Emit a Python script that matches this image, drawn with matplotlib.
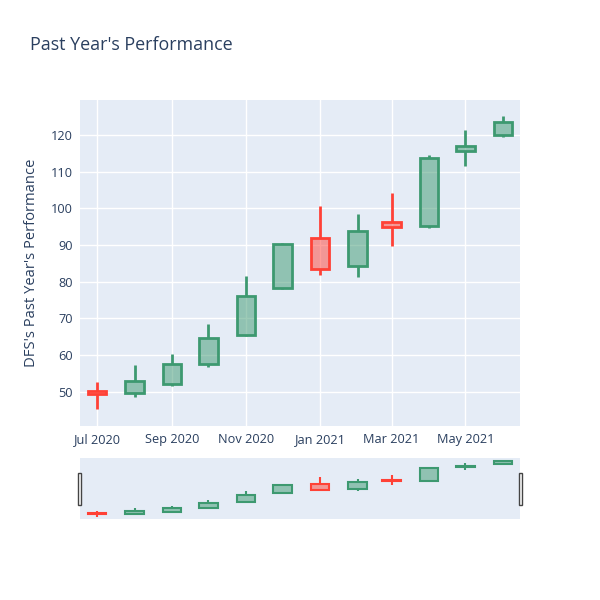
import numpy as np
import pandas as pd
import matplotlib
matplotlib.use("Agg")
import matplotlib.pyplot as plt
import matplotlib.dates as mdates
from matplotlib.patches import Rectangle

plt.rcParams["font.family"] = ["Open Sans", "DejaVu Sans"]

# Monthly OHLC
months = pd.date_range("2020-07-01", "2021-06-01", freq="MS")
opens = [50.3, 49.6, 52.2, 57.5, 65.6, 78.2, 92.0, 84.3, 96.3, 95.3, 115.5, 120.1]
highs = [52.7, 57.4, 60.3, 68.4, 81.6, 90.6, 100.7, 98.5, 104.2, 114.6, 121.2, 125.2]
lows = [45.3, 48.6, 51.7, 56.9, 65.1, 78.0, 81.7, 81.2, 89.6, 94.7, 111.4, 119.3]
closes = [49.5, 53.0, 57.7, 64.8, 76.0, 90.3, 83.5, 93.9, 95.0, 113.8, 117.0, 123.4]

tick_dates = pd.to_datetime(["2020-07-01", "2020-09-01", "2020-11-01",
                             "2021-01-01", "2021-03-01", "2021-05-01"])
y_ticks = np.arange(50, 121, 10)

INC = "#3D9970"
DEC = "#FF4136"
BG = "#E5ECF6"
TXT = "#2a3f5f"


def draw_candles(ax, lw_box=2.0, lw_wick=2.0):
    x = mdates.date2num(months)
    for xi, o, h, l, c in zip(x, opens, highs, lows, closes):
        col = INC if c >= o else DEC
        lo_b, hi_b = min(o, c), max(o, c)
        ax.vlines(xi, l, lo_b, color=col, lw=lw_wick, zorder=3)
        ax.vlines(xi, hi_b, h, color=col, lw=lw_wick, zorder=3)
        ax.bar(xi, hi_b - lo_b, bottom=lo_b, width=15, color=col, alpha=0.5,
               zorder=3, linewidth=0)
        ax.bar(xi, hi_b - lo_b, bottom=lo_b, width=15, facecolor="none",
               edgecolor=col, linewidth=lw_box, zorder=4)


fig = plt.figure(figsize=(6, 6), dpi=100)
x_lo = mdates.date2num(pd.Timestamp("2020-06-17"))
x_hi = mdates.date2num(pd.Timestamp("2021-06-15"))

# main axes
ax = fig.add_axes([80 / 600, 174 / 600, 440 / 600, 326 / 600])
ax.set_facecolor(BG)
draw_candles(ax)
ax.set_xlim(x_lo, x_hi)
ax.set_ylim(40.7, 129.5)
ax.set_yticks(y_ticks)
ax.set_xticks(mdates.date2num(tick_dates))
ax.xaxis.set_major_formatter(mdates.DateFormatter("%b %Y"))
ax.grid(True, color="white", lw=1, zorder=0)
ax.set_axisbelow(True)
for s in ax.spines.values():
    s.set_visible(False)
ax.tick_params(length=0, labelsize=9.2, colors=TXT, pad=5)
ax.set_ylabel("DFS's Past Year's Performance", fontsize=10.6, color=TXT, labelpad=9)

# range slider
sl = fig.add_axes([80 / 600, 81 / 600, 440 / 600, 61 / 600])
sl.set_facecolor(BG)
draw_candles(sl, lw_box=1.5, lw_wick=1.5)
sl.set_xlim(x_lo, x_hi)
sl.set_ylim(42, 128)
sl.set_xticks([])
sl.set_yticks([])
for s in sl.spines.values():
    s.set_visible(False)

for gx in (78, 519):
    fig.add_artist(Rectangle((gx / 600, (600 - 505) / 600), 3 / 600, 32 / 600,
                             transform=fig.transFigure, facecolor="white",
                             edgecolor="#444444", lw=1, zorder=10))

fig.text(30 / 600, 1 - 45 / 600, "Past Year's Performance", fontsize=12.9,
         color=TXT, ha="left", va="center")

fig.savefig("out.png", dpi=100)
